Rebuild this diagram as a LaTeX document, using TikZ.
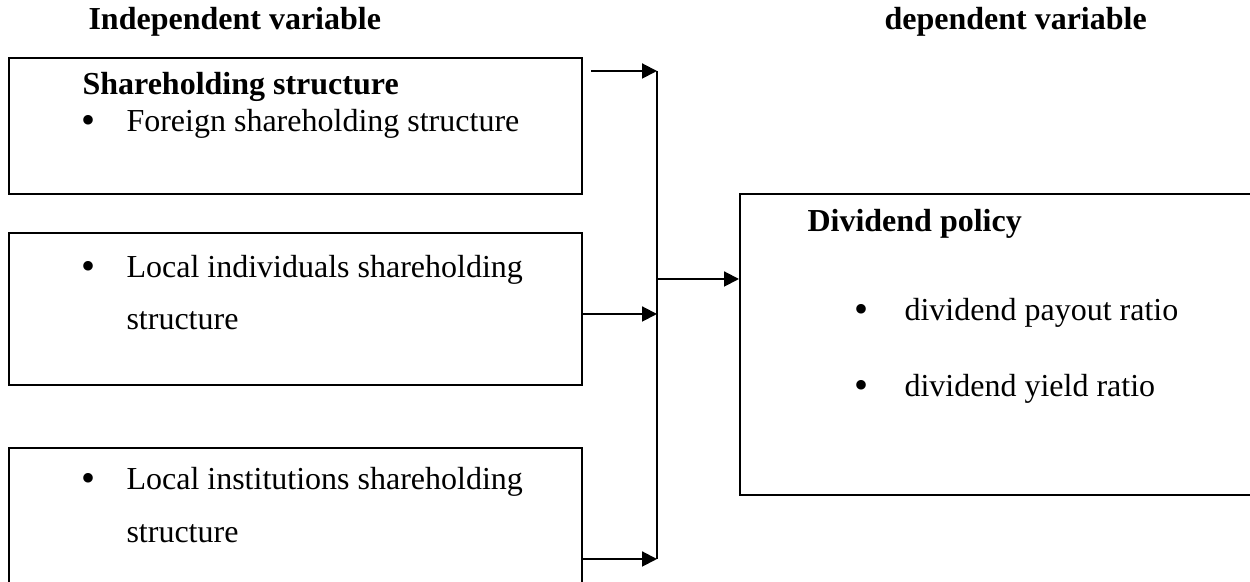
\documentclass[tikz,border=0pt]{standalone}
\usepackage{fontspec}
\setmainfont{Liberation Serif}
\usetikzlibrary{arrows.meta}

\tikzset{
  varbox/.style={draw, line width=0.75pt, anchor=north west, inner sep=0pt},
  txt/.style={anchor=base west, inner sep=0pt, font=\fontsize{12}{14}\selectfont},
  hd/.style={txt, font=\fontsize{12}{14}\selectfont\bfseries},
  dot/.style={txt, font=\fontsize{15}{17}\selectfont},
  flow/.style={draw, line width=0.75pt, -{Triangle[length=5.6pt,width=5.6pt]}},
}

\begin{document}
\begin{tikzpicture}[x=0.375pt, y=-0.375pt]
        \useasboundingbox (0,0) rectangle (1250,582);

        % column headings
        \node[hd] (indep) at (88,30) {Independent variable};
        \node[hd] (dep) at (884,30) {dependent variable};

        % boxes
        \node[varbox, minimum width=214.9pt, minimum height=51pt] (own) at (8,57) {};
        \node[varbox, minimum width=214.9pt, minimum height=57pt] (indiv) at (8,232) {};
        \node[varbox, minimum width=214.9pt, minimum height=57.4pt] (inst) at (8,447) {};
        \node[varbox, minimum width=197.3pt, minimum height=112.9pt] (div) at (739,193) {};

        % box texts
        \node[hd] (own title) at (82,95) {Shareholding structure};
        \node[dot] (own b1) at (81,134) {\textbullet};
        \node[txt] (own t1) at (126,132) {Foreign shareholding structure};

        \node[dot] (indiv b1) at (81,280) {\textbullet};
        \node[txt] (indiv t1) at (126,278) {Local individuals shareholding};
        \node[txt] (indiv t2) at (126,330) {structure};

        \node[dot] (inst b1) at (81,492) {\textbullet};
        \node[txt] (inst t1) at (126,490) {Local institutions shareholding};
        \node[txt] (inst t2) at (126,543) {structure};

        \node[hd] (div title) at (807,232) {Dividend policy};
        \node[dot] (div b1) at (854,323) {\textbullet};
        \node[txt] (div t1) at (904,321) {dividend payout ratio};
        \node[dot] (div b2) at (854,399) {\textbullet};
        \node[txt] (div t2) at (904,397) {dividend yield ratio};

        % collecting line
        \coordinate (own out) at (591,71);
        \coordinate (bus top) at (657,71);
        \coordinate (bus in) at (657,314);
        \coordinate (bus mid) at (657,279);
        \coordinate (bus bot) at (657,559);

        \path[draw,line width=0.75pt] (bus top) -- (bus bot);
        \path[flow] (own out) -- (bus top);
        \path[flow] (indiv.east |- bus in) -- (bus in);
        \path[flow] (inst.east |- bus bot) -- (bus bot);
        \path[flow] (bus mid) -- (div.west |- bus mid);
    \end{tikzpicture}
\end{document}
